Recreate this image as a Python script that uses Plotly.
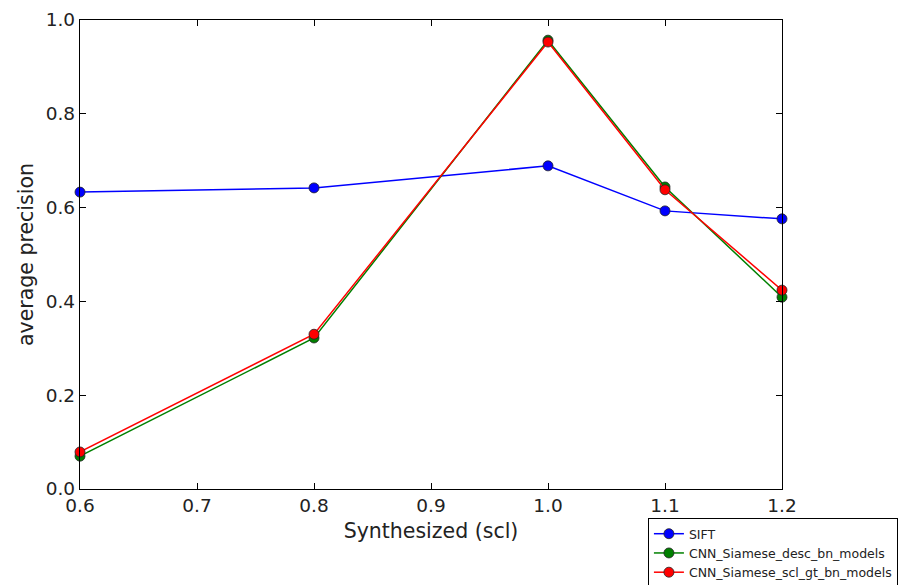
import plotly.graph_objects as go

scales = [0.6, 0.8, 1.0, 1.1, 1.2]
sift = [0.633, 0.642, 0.689, 0.593, 0.576]
cnn_desc = [0.070, 0.322, 0.957, 0.644, 0.409]
cnn_scl = [0.079, 0.330, 0.953, 0.638, 0.424]

names = ["SIFT", "CNN_Siamese_desc_bn_models", "CNN_Siamese_scl_gt_bn_models"]
colors = ["#0000ff", "#008000", "#ff0000"]
series = [sift, cnn_desc, cnn_scl]

fig = go.Figure()
for name, col, ys in zip(names, colors, series):
    fig.add_trace(go.Scatter(
        x=scales, y=ys, name=name, mode="lines+markers",
        line=dict(color=col, width=1.5),
        marker=dict(color=col, size=10, line=dict(color="#222222", width=0.8)),
        cliponaxis=False,
    ))

axis_common = dict(
    showgrid=False, zeroline=False, showline=True, linecolor="black", linewidth=1.3,
    mirror="ticks", ticks="inside", ticklen=6, tickcolor="black",
    tickfont=dict(family="DejaVu Sans", size=18.5, color="#222222"),
)
fig.update_layout(
    width=902, height=585,
    margin=dict(l=80, r=120, t=20, b=96, autoexpand=False),
    paper_bgcolor="white", plot_bgcolor="white",
    font=dict(family="DejaVu Sans", color="#222222"),
    xaxis=dict(range=[0.6, 1.2], tickvals=[0.6, 0.7, 0.8, 0.9, 1.0, 1.1, 1.2],
               ticktext=["0.6", "0.7", "0.8", "0.9", "1.0", "1.1", "1.2"],
               title=dict(text="Synthesized (scl)", font=dict(size=20.5), standoff=8),
               **axis_common),
    yaxis=dict(range=[0.0, 1.0], tickvals=[0.0, 0.2, 0.4, 0.6, 0.8, 1.0],
               ticktext=["0.0", "0.2", "0.4", "0.6", "0.8", "1.0"],
               title=dict(text="average precision", font=dict(size=20.5), standoff=6),
               **axis_common),
    legend=dict(x=0.809, y=-0.062, xanchor="left", yanchor="top",
                bgcolor="white", bordercolor="black", borderwidth=1,
                font=dict(size=12.5, family="DejaVu Sans"), tracegroupgap=0,
                itemwidth=30),
    showlegend=True,
)
fig.write_html("out.html")
